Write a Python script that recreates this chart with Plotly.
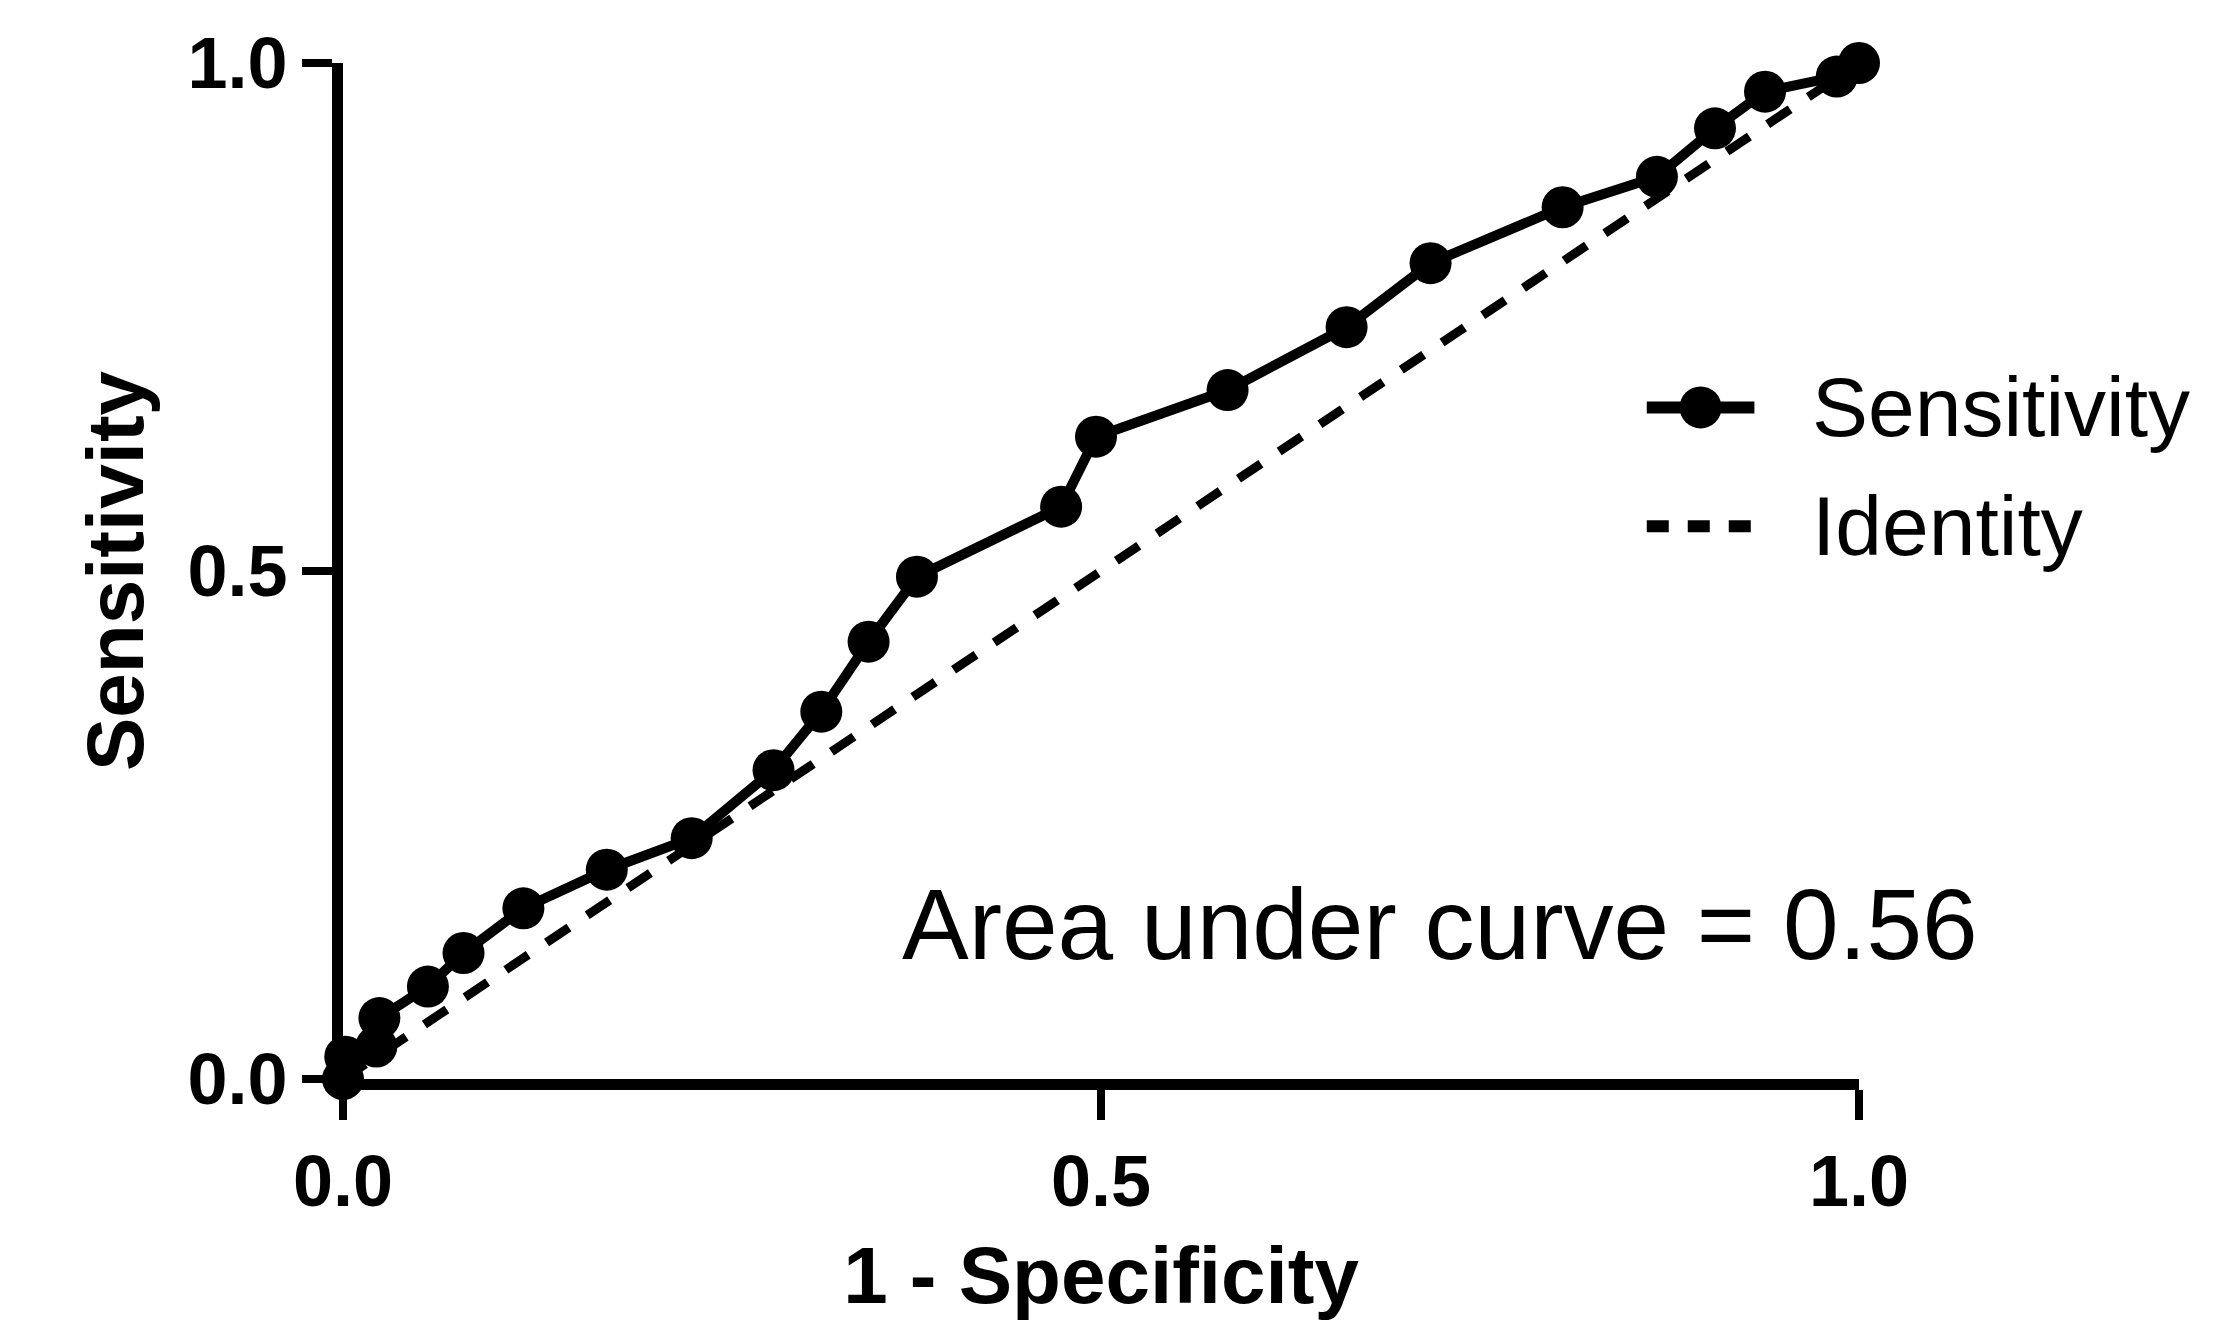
import plotly.graph_objects as go

# ROC data
fpr = [0.0, 0.0015, 0.022, 0.024, 0.056, 0.0795, 0.119, 0.174, 0.230, 0.284,
       0.3155, 0.3467, 0.3786, 0.4737, 0.4967, 0.5835, 0.662, 0.7174, 0.8045,
       0.8667, 0.905, 0.938, 0.9853, 1.0]
sensitivity = [0.0, 0.022, 0.032, 0.060, 0.091, 0.124, 0.168, 0.206, 0.237, 0.304,
               0.3615, 0.4304, 0.4944, 0.5633, 0.6322, 0.6781, 0.740, 0.803, 0.858,
               0.888, 0.9357, 0.9718, 0.9866, 1.0]
identity_x = [0.0, 1.0]
identity_y = [0.0, 1.0]

series_names = ["Sensitivity", "Identity"]
x_title = "1 - Specificity"
y_title = "Sensitivity"
auc_text = "Area under curve = 0.56"
tick_vals = [0.0, 0.5, 1.0]
tick_text = ["0.0", "0.5", "1.0"]

# legend sample positions (data coords)
leg_x = [0.86, 0.931]
leg_y_sens = 0.661
leg_y_id = 0.544
leg_text_x = 0.968

FONT = "Liberation Sans, Arial, sans-serif"
BLACK = "#000000"
DASH = "27px,22px"

fig = go.Figure()

fig.add_trace(go.Scatter(
    x=identity_x, y=identity_y, mode="lines",
    line=dict(color=BLACK, width=9, dash=DASH),
    name=series_names[1], showlegend=False, cliponaxis=False,
))
fig.add_trace(go.Scatter(
    x=fpr, y=sensitivity, mode="lines+markers",
    line=dict(color=BLACK, width=10),
    marker=dict(color=BLACK, size=42, line=dict(width=0)),
    name=series_names[0], showlegend=False, cliponaxis=False,
))

# manual legend samples
fig.add_trace(go.Scatter(
    x=leg_x, y=[leg_y_sens, leg_y_sens], mode="lines",
    line=dict(color=BLACK, width=12), showlegend=False, hoverinfo="skip",
    cliponaxis=False,
))
fig.add_trace(go.Scatter(
    x=[(leg_x[0] + leg_x[1]) / 2], y=[leg_y_sens], mode="markers",
    marker=dict(color=BLACK, size=42), showlegend=False, hoverinfo="skip",
    cliponaxis=False,
))
fig.add_trace(go.Scatter(
    x=leg_x, y=[leg_y_id, leg_y_id], mode="lines",
    line=dict(color=BLACK, width=12, dash="22px,19px"), showlegend=False,
    hoverinfo="skip", cliponaxis=False,
))

fig.add_annotation(x=leg_text_x, y=leg_y_sens, xref="x", yref="y",
                   text=series_names[0], showarrow=False, xanchor="left",
                   yanchor="middle", font=dict(family=FONT, size=84, color=BLACK))
fig.add_annotation(x=leg_text_x, y=leg_y_id, xref="x", yref="y",
                   text=series_names[1], showarrow=False, xanchor="left",
                   yanchor="middle", font=dict(family=FONT, size=84, color=BLACK))

fig.add_annotation(x=0.7233, y=0.1526, xref="x", yref="y", text=auc_text,
                   showarrow=False, xanchor="center", yanchor="middle",
                   font=dict(family=FONT, size=100, color=BLACK))

axis_common = dict(
    range=[0, 1], tickvals=tick_vals, ticktext=tick_text,
    showline=True, linecolor=BLACK, linewidth=11,
    ticks="outside", ticklen=30, tickwidth=8, tickcolor=BLACK,
    showgrid=False, zeroline=False, automargin=False,
    tickfont=dict(family=FONT, size=72, color=BLACK, weight="bold"),
)

fig.update_layout(
    width=2240, height=1320,
    margin=dict(l=343, r=381, t=63, b=241),
    paper_bgcolor="white", plot_bgcolor="white",
    showlegend=False,
    xaxis=dict(**axis_common,
               title=dict(text=x_title, standoff=38,
                          font=dict(family=FONT, size=80, color=BLACK, weight="bold"))),
    yaxis=dict(**axis_common,
               title=dict(text=y_title, standoff=22,
                          font=dict(family=FONT, size=80, color=BLACK, weight="bold"))),
)

fig.write_html("out.html")
